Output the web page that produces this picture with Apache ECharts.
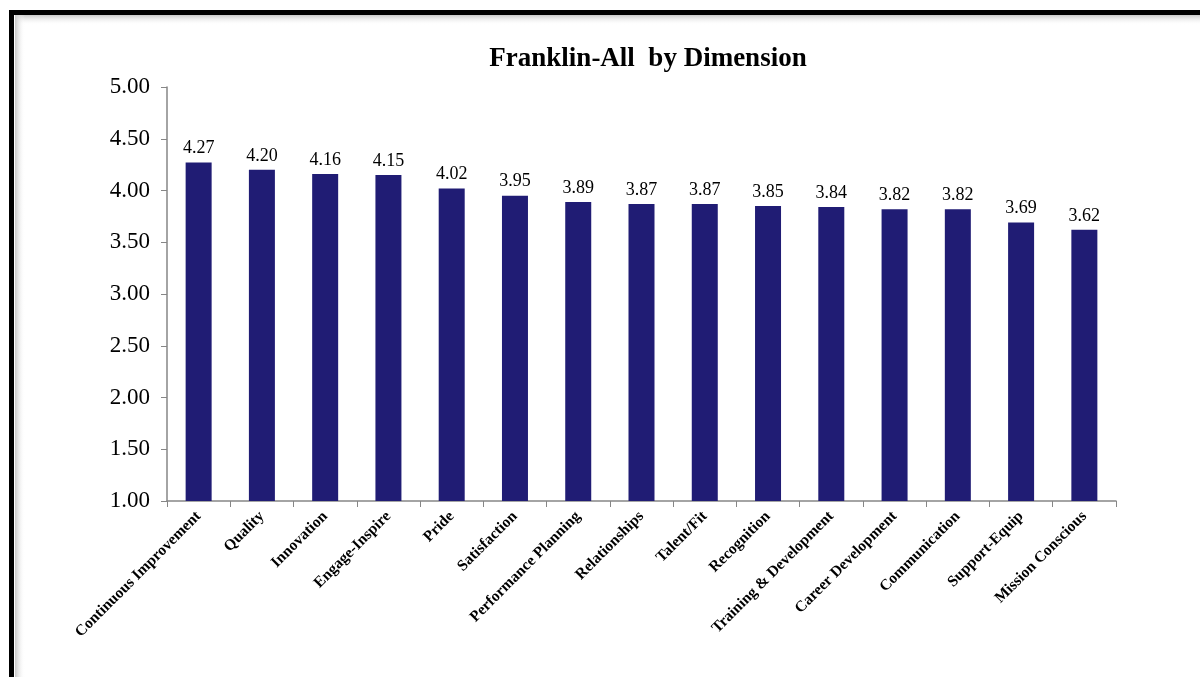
<!DOCTYPE html>
<html><head><meta charset="utf-8">
<script src="https://cdn.jsdelivr.net/npm/echarts@6/dist/echarts.min.js"></script>
<style>html,body{margin:0;padding:0;background:#fff}#c{width:1200px;height:677px}</style>
</head><body><div id="c"></div>
<script>
const categories = ["Continuous Improvement","Quality","Innovation","Engage-Inspire","Pride","Satisfaction","Performance Planning","Relationships","Talent/Fit","Recognition","Training & Development","Career Development","Communication","Support-Equip","Mission Conscious"];
const values = [4.27,4.20,4.16,4.15,4.02,3.95,3.89,3.87,3.87,3.85,3.84,3.82,3.82,3.69,3.62];
const yTicks = [1.00,1.50,2.00,2.50,3.00,3.50,4.00,4.50,5.00];
const titleText = "Franklin-All  by Dimension";

const chart = echarts.init(document.getElementById('c'));
const serif = "'Liberation Serif','DejaVu Serif',serif";
chart.setOption({
  animation:false,
  backgroundColor:'#fff',
  title:{text:titleText,left:643,top:41,textAlign:'center',textStyle:{fontFamily:serif,fontSize:27,fontWeight:'bold',color:'#000'}},
  grid:{left:167,right:84,top:87,bottom:176,containLabel:false},
  xAxis:{type:'category',data:categories,
    axisLine:{lineStyle:{color:'#868686',width:1.5}},
    axisTick:{show:true,alignWithLabel:false,length:6,lineStyle:{color:'#868686'}},
    axisLabel:{interval:0,rotate:45,fontFamily:serif,fontSize:15.5,fontWeight:'bold',color:'#000',margin:13}},
  yAxis:{type:'value',min:yTicks[0],max:yTicks[yTicks.length-1],interval:0.5,
    axisLine:{show:true,lineStyle:{color:'#868686',width:1.5}},
    axisTick:{show:true,length:6,lineStyle:{color:'#868686'}},
    splitLine:{show:false},
    axisLabel:{fontFamily:serif,fontSize:23,color:'#000',margin:17,formatter:v=>v.toFixed(2)}},
  series:[{type:'bar',data:values,barWidth:26,itemStyle:{color:'#201C74'},
    label:{show:true,position:'top',distance:5,fontFamily:serif,fontSize:18,color:'#000',formatter:p=>p.value.toFixed(2)}}],
  graphic:[
    {type:'rect',shape:{x:15,y:15,width:1300,height:10},style:{fill:new echarts.graphic.LinearGradient(0,0,0,1,[{offset:0,color:'#c8c8c8'},{offset:1,color:'rgba(255,255,255,0)'}])},z:10},
    {type:'rect',shape:{x:15,y:15,width:10,height:800},style:{fill:new echarts.graphic.LinearGradient(0,0,1,0,[{offset:0,color:'#c8c8c8'},{offset:1,color:'rgba(255,255,255,0)'}])},z:10},
    {type:'rect',shape:{x:11.5,y:12.5,width:1300,height:800},style:{fill:'none',stroke:'#000',lineWidth:5},z:11}
  ]
});
</script></body></html>
